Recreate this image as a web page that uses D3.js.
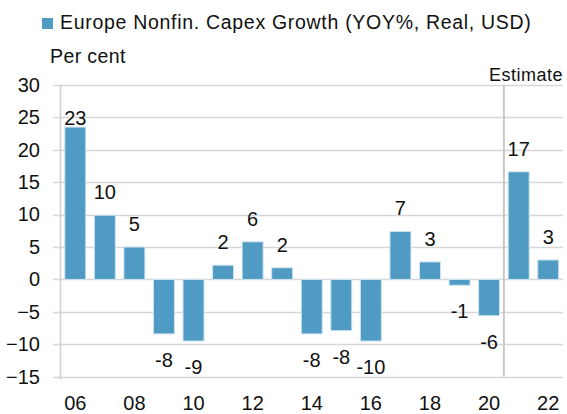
<!DOCTYPE html>
<html>
<head>
<meta charset="utf-8">
<script src="https://cdn.jsdelivr.net/npm/d3@7"></script>
<style>
  body { margin: 0; background: #fff; }
  text { font-family: "Liberation Sans", Arial, sans-serif; fill: #111; }
</style>
</head>
<body>
<script>
var years = ["06", "07", "08", "09", "10", "11", "12", "13", "14", "15", "16", "17", "18", "19", "20", "21", "22"];
var capex = [23.5, 9.9, 5.0, -8.4, -9.5, 2.2, 5.8, 1.8, -8.4, -7.9, -9.5, 7.4, 2.7, -0.9, -5.6, 16.6, 3.0];
var valueLabels = ["23", "10", "5", "-8", "-9", "2", "6", "2", "-8", "-8", "-10", "7", "3", "-1", "-6", "17", "3"];
var yTicks = [30, 25, 20, 15, 10, 5, 0, -5, -10, -15];
var xTickLabels = ["06", "08", "10", "12", "14", "16", "18", "20", "22"];
var estimateFrom = "21";

var width = 567, height = 414;
var barColor = "#4f9bc4";

var svg = d3.select("body").append("svg")
  .attr("width", width)
  .attr("height", height);

var xScale = d3.scaleBand()
  .domain(years)
  .range([60.5, 563])
  .paddingInner(0.29)
  .paddingOuter(0.145);

var yScale = d3.scaleLinear()
  .domain([-15, 30])
  .range([376.7, 84.9]);

// gridlines
svg.append("g")
  .selectAll("line")
  .data(yTicks)
  .enter()
  .append("line")
  .attr("x1", 53)
  .attr("x2", 563)
  .attr("y1", function(d) { return Math.round(yScale(d)) + 0.5 })
  .attr("y2", function(d) { return Math.round(yScale(d)) + 0.5 })
  .attr("stroke", "#d6d6d6")
  .attr("stroke-width", 1.5);

// y axis labels
var yAxis = d3.axisLeft(yScale).tickValues(yTicks).tickSize(0).tickPadding(0);
var yGroup = svg.append("g")
  .attr("transform", "translate(40,0)")
  .call(yAxis);
yGroup.select(".domain").remove();
yGroup.selectAll("text")
  .attr("font-size", 20)
  .attr("fill", "#111")
  .attr("font-family", "Liberation Sans, Arial, sans-serif");

// vertical axis line
svg.append("line")
  .attr("x1", 60.5).attr("x2", 60.5)
  .attr("y1", yScale(30)).attr("y2", yScale(-15) + 3)
  .attr("stroke", "#d0d0d0")
  .attr("stroke-width", 1.5);

// estimate divider
var divX = xScale(estimateFrom) - xScale.step() * xScale.paddingInner() / 2;
svg.append("line")
  .attr("x1", divX).attr("x2", divX)
  .attr("y1", yScale(30)).attr("y2", yScale(-15))
  .attr("stroke", "#c8c8c8")
  .attr("stroke-width", 2);

// bars
svg.append("g")
  .selectAll("rect")
  .data(capex)
  .enter()
  .append("rect")
  .attr("x", function(d, i) { return xScale(years[i]) })
  .attr("width", xScale.bandwidth())
  .attr("y", function(d) { return yScale(Math.max(0, d)) })
  .attr("height", function(d) { return Math.abs(yScale(d) - yScale(0)) })
  .attr("fill", barColor)
  .attr("stroke", "#cfe4f0")
  .attr("stroke-width", 1);

// value labels
svg.append("g")
  .selectAll("text")
  .data(capex)
  .enter()
  .append("text")
  .attr("x", function(d, i) { return xScale(years[i]) + xScale.bandwidth() / 2 })
  .attr("y", function(d) {
    if (d >= 0) return Math.max(yScale(d) - 16, yScale(25) + 8);
    return yScale(d) + 33;
  })
  .attr("text-anchor", "middle")
  .attr("font-size", 20)
  .text(function(d, i) { return valueLabels[i] });

// x axis labels
var xAxis = d3.axisBottom(xScale).tickValues(xTickLabels).tickSize(0).tickPadding(0);
var xGroup = svg.append("g")
  .attr("transform", "translate(0,396)")
  .call(xAxis);
xGroup.select(".domain").remove();
xGroup.selectAll("text")
  .attr("font-size", 20)
  .attr("fill", "#111")
  .attr("font-family", "Liberation Sans, Arial, sans-serif");

// legend
svg.append("rect")
  .attr("x", 42).attr("y", 18)
  .attr("width", 11).attr("height", 11)
  .attr("fill", barColor);
svg.append("text")
  .attr("x", 60).attr("y", 29)
  .attr("font-size", 19.5)
  .attr("letter-spacing", 0.7)
  .text("Europe Nonfin. Capex Growth (YOY%, Real, USD)");

svg.append("text")
  .attr("x", 50).attr("y", 63)
  .attr("font-size", 19.5)
  .attr("letter-spacing", 0.4)
  .text("Per cent");

svg.append("text")
  .attr("x", 563).attr("y", 81)
  .attr("text-anchor", "end")
  .attr("font-size", 18)
  .attr("letter-spacing", 0.5)
  .text("Estimate");
</script>
</body>
</html>
